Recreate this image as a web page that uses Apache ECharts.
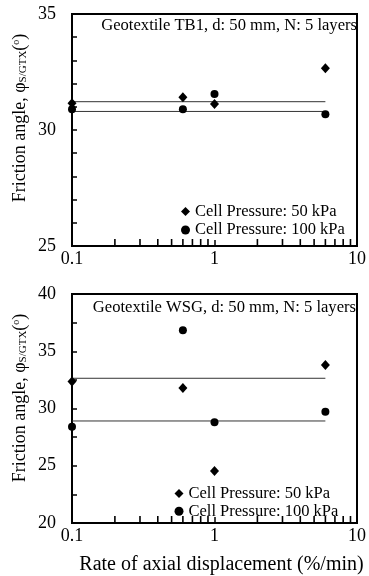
<!DOCTYPE html>
<html>
<head>
<meta charset="utf-8">
<script src="https://cdn.jsdelivr.net/npm/echarts@6/dist/echarts.min.js"></script>
<style>
  html, body { margin: 0; padding: 0; background: #fff; }
  #chart { width: 369px; height: 576px; }
</style>
</head>
<body>
<div id="chart"></div>
<script>
// rate of axial displacement (%/min)
const rates = [0.1, 0.6, 1, 6];
const minorTickVals = [0.2, 0.3, 0.4, 0.5, 0.6, 0.7, 0.8, 0.9, 2, 3, 4, 5, 6, 7, 8, 9];

// Geotextile TB1
const tb1_50kPa = [31.15, 31.41, 31.12, 32.66];
const tb1_100kPa = [30.89, 30.89, 31.55, 30.68];
const tb1_fit = [31.22, 30.80];

// Geotextile WSG
const wsg_50kPa = [32.36, 31.78, 24.54, 33.79];
const wsg_100kPa = [28.41, 36.84, 28.79, 29.71];
const wsg_fit = [32.64, 28.91];

const fitRange = [0.1, 6];
const titles = ['Geotextile TB1, d: 50 mm, N: 5 layers', 'Geotextile WSG, d: 50 mm, N: 5 layers'];
const name50 = 'Cell Pressure: 50 kPa';
const name100 = 'Cell Pressure: 100 kPa';
const yName = 'Friction angle, φ{s|S/GTX}({o|o})';

const FONT = '"Liberation Serif", "Times New Roman", serif';
const chart = echarts.init(document.getElementById('chart'));

const pair = (ys) => rates.map((r, i) => [r, ys[i]]);

const yAxis = (idx, min, max, split) => ({
    type: 'value', gridIndex: idx, min: min, max: max, interval: 5,
    axisLine: { show: true, lineStyle: { color: '#000', width: 2 } },
    axisTick: { show: true, inside: true, length: 5, lineStyle: { color: '#000', width: 1.5 } },
    minorTick: { show: true, splitNumber: split, length: 5, lineStyle: { color: '#000', width: 1.5 } },
    splitLine: { show: false },
    axisLabel: { fontFamily: FONT, fontSize: 18, color: '#000', margin: 16 }
});

const xAxis = (idx, withName) => ({
    type: 'log', logBase: 10, gridIndex: idx, min: 0.1, max: 10,
    name: withName ? 'Rate of axial displacement (%/min)' : '',
    nameLocation: 'middle', nameGap: 32,
    nameTextStyle: { fontFamily: FONT, fontSize: 20, color: '#000', padding: [0, 0, 0, 14] },
    axisLine: { show: true, lineStyle: { color: '#000', width: 2 } },
    axisTick: { show: true, inside: true, length: 6, lineStyle: { color: '#000', width: 1.5 } },
    splitLine: { show: false },
    axisLabel: { fontFamily: FONT, fontSize: 18, color: '#000', margin: 4 }
});

// minor ticks of the log axis, placed through the axis scale
const tickSeries = (idx, ymin) => ({
    type: 'scatter', name: 'minorTicks' + idx, xAxisIndex: idx, yAxisIndex: idx, silent: true,
    data: minorTickVals.map(v => [v, ymin]),
    symbol: 'rect', symbolSize: [1.6, 7], symbolOffset: [0, -3.5],
    itemStyle: { color: '#000', opacity: 1 }, clip: false, z: 5
});

const fitSeries = (idx, v) => ({
    type: 'line', xAxisIndex: idx, yAxisIndex: idx, silent: true,
    data: fitRange.map(x => [x, v]), symbol: 'none',
    lineStyle: { color: '#333', width: 1 }, z: 1
});

const markSeries = (idx, name, ys, sym, size) => ({
    type: 'scatter', name: name, xAxisIndex: idx, yAxisIndex: idx,
    data: pair(ys), symbol: sym, symbolSize: size, clip: false,
    itemStyle: { color: '#000', opacity: 1 }, z: 3
});

const legendStyle = { fontFamily: FONT, fontSize: 16.5, lineHeight: 16, color: '#000' };
const titleStyle = { fontFamily: FONT, fontSize: 16.6, fontWeight: 'normal', color: '#000' };
const legendData = [{ name: name50, icon: 'diamond' }, { name: name100, icon: 'circle' }];

const yNameText = (cx, cy) => ({
    type: 'text', x: cx, y: cy, rotation: Math.PI / 2,
    style: {
        text: yName, fontFamily: FONT, fontSize: 18, fill: '#000',
        align: 'center', verticalAlign: 'middle',
        rich: {
            s: { fontFamily: FONT, fontSize: 11, fill: '#000', verticalAlign: 'bottom' },
            o: { fontFamily: FONT, fontSize: 10, fill: '#000', verticalAlign: 'top' }
        }
    }
});

const option = {
    backgroundColor: '#fff',
    animation: false,
    title: [
        { text: titles[0], right: 7, top: 12, textStyle: titleStyle },
        { text: titles[1], right: 8, top: 294, textStyle: titleStyle }
    ],
    legend: [
        { orient: 'vertical', left: 176, top: 198, itemWidth: 9, itemHeight: 9, itemGap: 1.5, textStyle: legendStyle,
          data: legendData, selectedMode: false },
        { orient: 'vertical', left: 169.5, top: 480, itemWidth: 9, itemHeight: 9, itemGap: 0.7, itemTextGap: 10,
          textStyle: legendStyle, data: legendData, selectedMode: false }
    ],
    graphic: [yNameText(20, 118), yNameText(20, 398)],
    grid: [
        { left: 72, top: 14, right: 10, height: 232, show: true, borderColor: '#000', borderWidth: 2 },
        { left: 72, top: 294, right: 10, height: 232, show: true, borderColor: '#000', borderWidth: 2 }
    ],
    xAxis: [xAxis(0, false), xAxis(1, true)],
    yAxis: [yAxis(0, 25, 35, 5), yAxis(1, 20, 40, 2)],
    series: [
        tickSeries(0, 25),
        tickSeries(1, 20),
        fitSeries(0, tb1_fit[0]),
        fitSeries(0, tb1_fit[1]),
        fitSeries(1, wsg_fit[0]),
        fitSeries(1, wsg_fit[1]),
        markSeries(0, name50, tb1_50kPa, 'diamond', [9, 10]),
        markSeries(0, name100, tb1_100kPa, 'circle', 8),
        markSeries(1, name50, wsg_50kPa, 'diamond', [9, 10]),
        markSeries(1, name100, wsg_100kPa, 'circle', 8)
    ]
};

chart.setOption(option);
</script>
</body>
</html>
